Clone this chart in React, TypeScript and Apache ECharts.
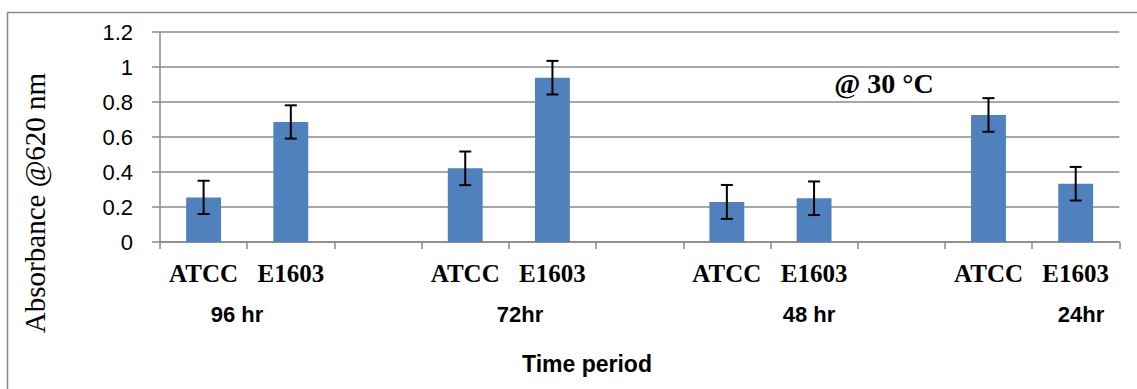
import React, { useEffect, useRef } from "react";
import * as echarts from "echarts";

const categories = ["ATCC", "E1603", "", "ATCC", "E1603", "", "ATCC", "E1603", "", "ATCC", "E1603"];
const absorbance = [0.255, 0.686, null, 0.421, 0.939, null, 0.229, 0.25, null, 0.726, 0.333];
const errorValues = [0.095, 0.095, null, 0.096, 0.096, null, 0.097, 0.096, null, 0.096, 0.096];
const groupLabels = ["96 hr", "72hr", "48 hr", "24hr"];
const yTicks = { min: 0, max: 1.2, interval: 0.2 };
const yAxisTitle = "Absorbance @620 nm";
const xAxisTitle = "Time period";
const annotation = "@ 30 °C";

const groupLabelX = [237, 520, 809, 1081];

export default function App() {
  const ref = useRef<HTMLDivElement>(null);
  useEffect(() => {
    if (!ref.current) return;
    const chart = echarts.init(ref.current, undefined, { renderer: "svg" });
    const errData = absorbance
      .map((v, i) => (v == null || errorValues[i] == null ? null : [i, (v as number) - (errorValues[i] as number), (v as number) + (errorValues[i] as number)]))
      .filter((d) => d !== null);
    const gridColor = "#8a8a8a";
    chart.setOption({
      animation: false,
      backgroundColor: "#ffffff",
      grid: { left: 160, right: 17.7, top: 32, bottom: 147 },
      xAxis: {
        type: "category",
        data: categories,
        boundaryGap: true,
        axisLine: { lineStyle: { color: gridColor, width: 1.5 } },
        axisTick: { show: true, length: 7, alignWithLabel: false, lineStyle: { color: gridColor, width: 1.5 }, interval: 0 },
        axisLabel: {
          interval: 0,
          margin: 19,
          fontFamily: "Liberation Serif",
          fontWeight: "bold",
          fontSize: 25,
          color: "#000",
        },
        splitLine: { show: false },
      },
      yAxis: {
        type: "value",
        min: yTicks.min,
        max: yTicks.max,
        interval: yTicks.interval,
        axisLine: { show: true, lineStyle: { color: gridColor, width: 1.5 } },
        axisTick: { show: true, length: 8, lineStyle: { color: gridColor, width: 1.5 } },
        axisLabel: {
          margin: 27,
          fontFamily: "Liberation Sans",
          fontSize: 22,
          color: "#000",
          formatter: (v: number) => String(Math.round(v * 10) / 10),
        },
        splitLine: { show: true, lineStyle: { color: gridColor, width: 1.5 } },
      },
      series: [
        {
          type: "bar",
          data: absorbance,
          barWidth: "40%",
          itemStyle: { color: "#4F81BD" },
        },
        {
          type: "custom",
          data: errData,
          encode: { x: 0, y: [1, 2] },
          z: 10,
          renderItem: (params: any, api: any) => {
            const x = api.value(0);
            const lo = api.coord([x, api.value(1)]);
            const hi = api.coord([x, api.value(2)]);
            const half = 6;
            const style = { stroke: "#000", lineWidth: 2 };
            return {
              type: "group",
              children: [
                { type: "line", shape: { x1: hi[0], y1: hi[1], x2: lo[0], y2: lo[1] }, style },
                { type: "line", shape: { x1: hi[0] - half, y1: hi[1], x2: hi[0] + half, y2: hi[1] }, style },
                { type: "line", shape: { x1: lo[0] - half, y1: lo[1], x2: lo[0] + half, y2: lo[1] }, style },
              ],
            };
          },
        },
      ],
      graphic: [
        {
          type: "rect",
          shape: { x: 7.5, y: 12.5, width: 1300, height: 600 },
          style: { fill: "none", stroke: gridColor, lineWidth: 1.5 },
          silent: true,
          z: -1,
        },
        {
          type: "text",
          x: 35,
          y: 203,
          rotation: Math.PI / 2,
          style: {
            text: yAxisTitle,
            fontFamily: "Liberation Serif",
            fontSize: 29,
            fill: "#000",
            align: "center",
            verticalAlign: "middle",
          },
        },
        {
          type: "text",
          x: 587,
          y: 364,
          style: {
            text: xAxisTitle,
            fontFamily: "Liberation Sans",
            fontWeight: "bold",
            fontSize: 23,
            fill: "#000",
            align: "center",
            verticalAlign: "middle",
          },
        },
        {
          type: "text",
          x: 884,
          y: 83.5,
          style: {
            text: annotation,
            fontFamily: "Liberation Serif",
            fontWeight: "bold",
            fontSize: 28,
            fill: "#000",
            align: "center",
            verticalAlign: "middle",
          },
        },
        ...groupLabels.map((t, i) => ({
          type: "text",
          x: groupLabelX[i],
          y: 314.5,
          style: {
            text: t,
            fontFamily: "Liberation Sans",
            fontWeight: "bold",
            fontSize: 22,
            fill: "#000",
            align: "center",
            verticalAlign: "middle",
          },
        })),
      ],
    });
    return () => chart.dispose();
  }, []);
  return (
    <div
      ref={ref}
      style={{ position: "fixed", left: 0, top: 0, width: 1137, height: 389, background: "#fff" }}
    />
  );
}
